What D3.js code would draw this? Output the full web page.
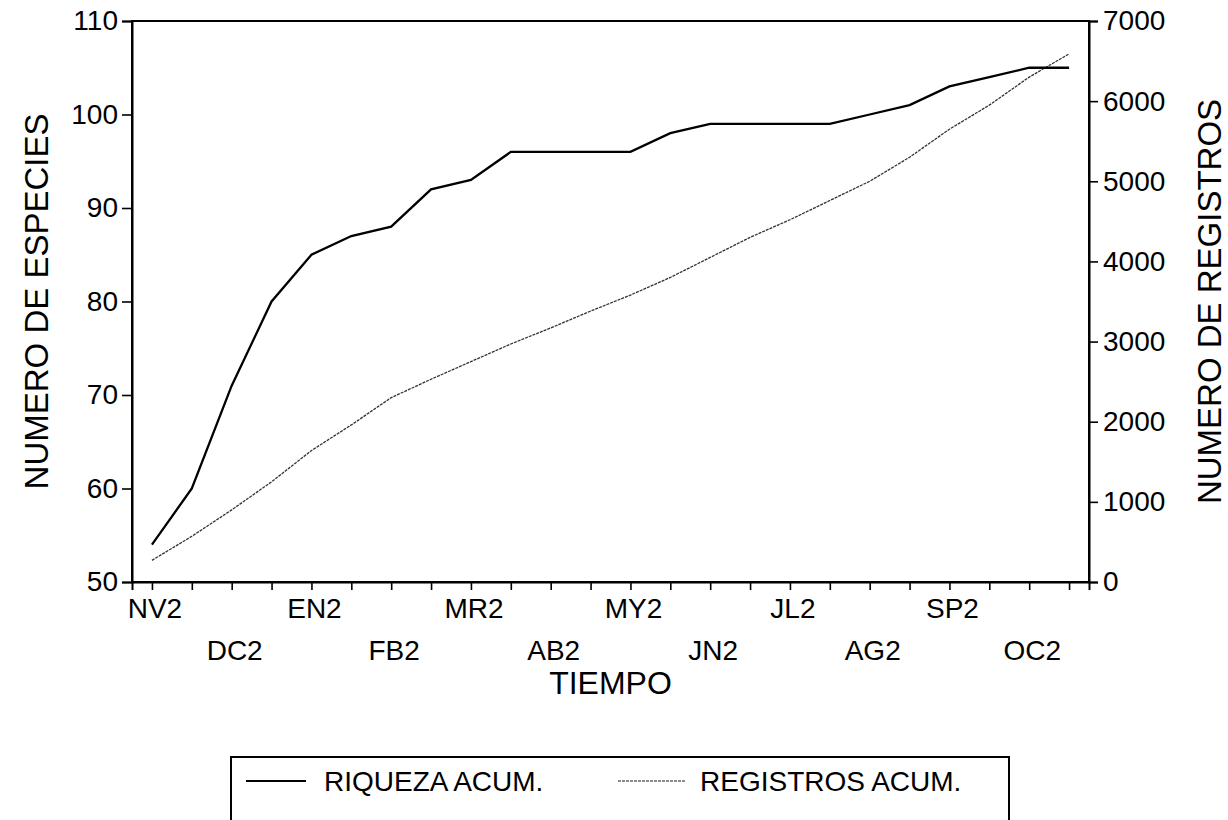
<!DOCTYPE html>
<html>
<head>
<meta charset="utf-8">
<script src="https://cdn.jsdelivr.net/npm/d3@7"></script>
<style>
  body { margin: 0; background: #fff; }
  svg { display: block; }
  text { font-family: "Liberation Sans", Arial, sans-serif; fill: #000; }
</style>
</head>
<body>
<div id="chart"></div>
<script>
// month labels, one every second sampling point (24 points, two per month)
var monthLabels = ["NV2", "DC2", "EN2", "FB2", "MR2", "AB2", "MY2", "JN2", "JL2", "AG2", "SP2", "OC2"];
var leftTicks = [50, 60, 70, 80, 90, 100, 110];
var rightTicks = [0, 1000, 2000, 3000, 4000, 5000, 6000, 7000];

// accumulated species richness (left axis)
var riqueza = [54, 60, 71, 80, 85, 87, 88, 92, 93, 96, 96, 96,
               96, 98, 99, 99, 99, 99, 100, 101, 103, 104, 105, 105];
// accumulated records (right axis)
var registros = [270, 570, 900, 1250, 1640, 1960, 2300, 2530, 2750, 2970, 3170, 3380,
                 3580, 3800, 4050, 4300, 4520, 4760, 5000, 5300, 5650, 5950, 6300, 6590];

(function () {
  var width = 1228, height = 820;
  // plot frame edges
  var pLeft = 132, pRight = 1089, pTop = 21, pBottom = 582;

  var svg = d3.select('#chart')
              .append('svg')
              .attr('width', width)
              .attr('height', height);

  var x = d3.scaleLinear().domain([-0.5, riqueza.length - 0.5]).range([pLeft, pRight]);
  var yL = d3.scaleLinear().domain([50, 110]).range([pBottom, pTop]);
  var yR = d3.scaleLinear().domain([0, 7000]).range([pBottom, pTop]);

  // frame
  svg.append('rect')
    .attr('x', pLeft).attr('y', pTop)
    .attr('width', pRight - pLeft).attr('height', pBottom - pTop)
    .attr('fill', 'none').attr('stroke', '#000').attr('stroke-width', 2);

  // left axis
  var axL = svg.append('g')
    .attr('transform', 'translate(' + pLeft + ',0)')
    .call(d3.axisLeft(yL).tickValues(leftTicks).tickSize(10).tickPadding(4));
  // right axis
  var axR = svg.append('g')
    .attr('transform', 'translate(' + pRight + ',0)')
    .call(d3.axisRight(yR).tickValues(rightTicks).tickSize(9).tickPadding(5).tickFormat(d3.format('d')));
  // bottom axis, a tick on every point
  var axB = svg.append('g')
    .attr('transform', 'translate(0,' + pBottom + ')')
    .call(d3.axisBottom(x).tickValues(d3.range(riqueza.length)).tickSize(8).tickFormat(''));

  [axL, axR, axB].forEach(function (g) {
    g.select('.domain').attr('stroke-width', 2);
    g.selectAll('.tick line').attr('stroke-width', 1.6);
    g.selectAll('.tick text').style('font-size', '28px');
  });

  // month labels in two rows
  svg.append('g').selectAll('text')
    .data(monthLabels).enter()
    .append('text')
    .attr('x', function (d, i) { return x(i * 2) + 3; })
    .attr('y', function (d, i) { return i % 2 === 0 ? 618 : 660; })
    .attr('text-anchor', 'middle')
    .style('font-size', '28px')
    .text(function (d) { return d; });

  // axis titles
  svg.append('text')
    .attr('x', (pLeft + pRight) / 2).attr('y', 694)
    .attr('text-anchor', 'middle')
    .style('font-size', '32px')
    .text('TIEMPO');

  svg.append('text')
    .attr('transform', 'translate(48,' + (pTop + pBottom) / 2 + ') rotate(-90)')
    .attr('text-anchor', 'middle')
    .style('font-size', '33px')
    .text('NUMERO DE ESPECIES');

  svg.append('text')
    .attr('transform', 'translate(1221,' + (pTop + pBottom) / 2 + ') rotate(-90)')
    .attr('text-anchor', 'middle')
    .style('font-size', '33px')
    .text('NUMERO DE REGISTROS');

  // lines
  var lineL = d3.line().x(function (d, i) { return x(i); }).y(function (d) { return yL(d); });
  var lineR = d3.line().x(function (d, i) { return x(i); }).y(function (d) { return yR(d); });

  svg.append('path')
    .datum(registros)
    .attr('d', lineR)
    .attr('fill', 'none')
    .attr('stroke', '#333')
    .attr('stroke-width', 1.3)
    .attr('stroke-dasharray', '3,1');

  svg.append('path')
    .datum(riqueza)
    .attr('d', lineL)
    .attr('fill', 'none')
    .attr('stroke', '#000')
    .attr('stroke-width', 2.3);

  // legend box, runs off the bottom of the page
  var legend = svg.append('g');
  legend.append('rect')
    .attr('x', 231).attr('y', 757)
    .attr('width', 778).attr('height', 90)
    .attr('fill', 'none').attr('stroke', '#000').attr('stroke-width', 2);
  legend.append('line')
    .attr('x1', 246).attr('x2', 306).attr('y1', 781).attr('y2', 781)
    .attr('stroke', '#000').attr('stroke-width', 2);
  legend.append('text')
    .attr('x', 324).attr('y', 791)
    .style('font-size', '28px')
    .text('RIQUEZA ACUM.');
  legend.append('line')
    .attr('x1', 618).attr('x2', 685).attr('y1', 781).attr('y2', 781)
    .attr('stroke', '#666').attr('stroke-width', 1.3)
    .attr('stroke-dasharray', '3,1');
  legend.append('text')
    .attr('x', 700).attr('y', 791)
    .style('font-size', '28px')
    .text('REGISTROS ACUM.');
})();
</script>
</body>
</html>
